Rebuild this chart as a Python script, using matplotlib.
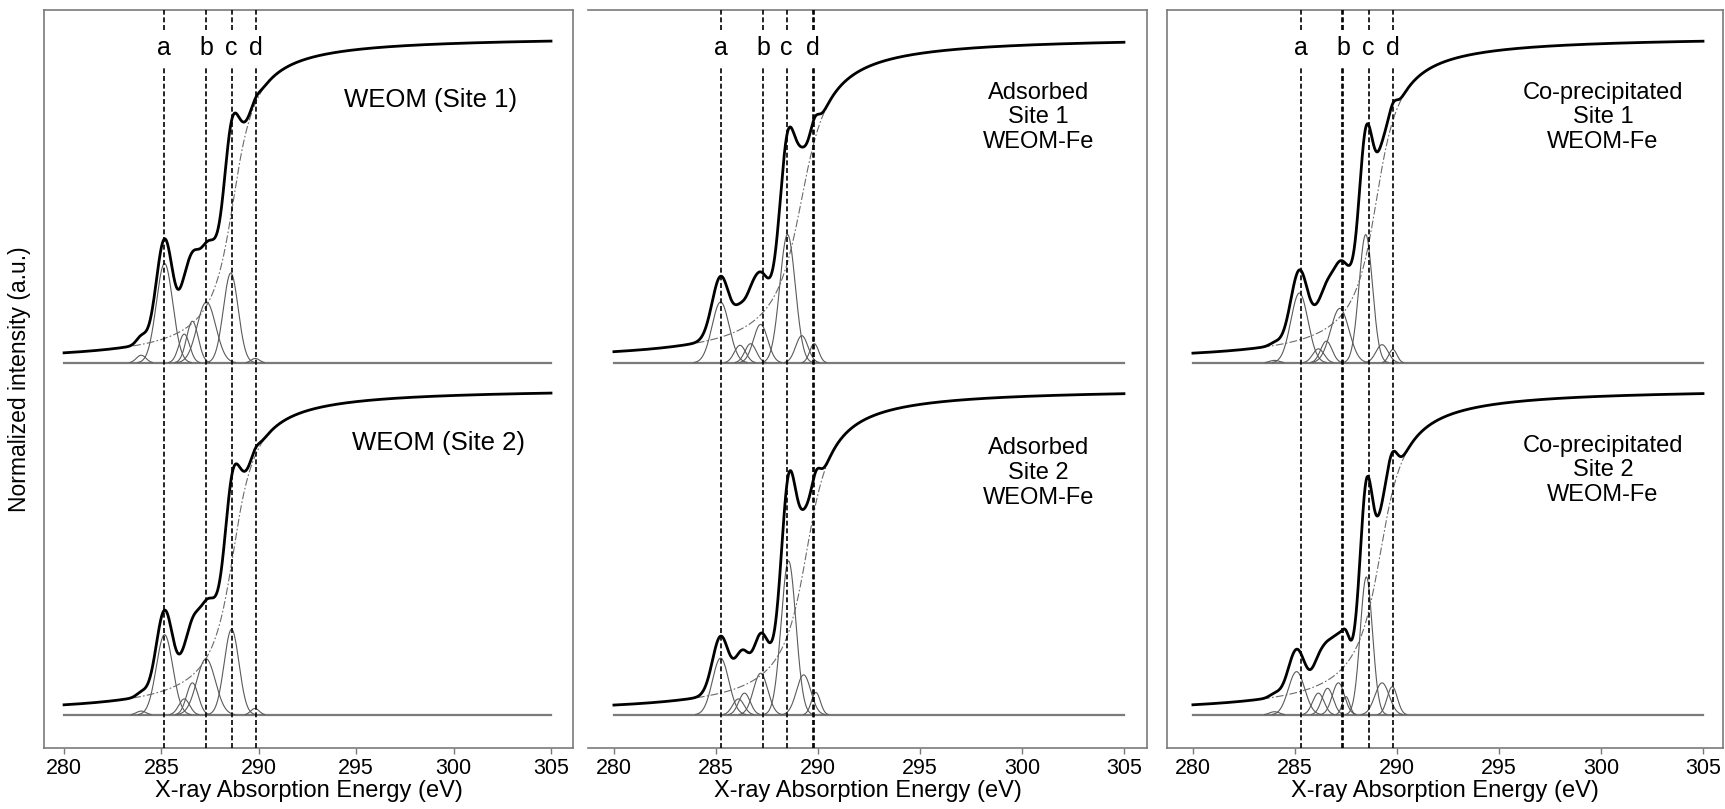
import numpy as np
import matplotlib
matplotlib.use("Agg")
import matplotlib.pyplot as plt

plt.rcParams['font.family'] = ['Liberation Sans', 'DejaVu Sans']

# Peak fits. Heights are in edge-jump units above each baseline,
# centres and widths (sigma) in eV. Step = arctan edge: centre, width, height.
weom1_centers = [283.96, 285.16, 286.17, 286.59, 287.31, 288.56, 289.82]
weom1_heights = [0.024, 0.31, 0.09, 0.13, 0.19, 0.28, 0.014]
weom1_sigmas  = [0.25, 0.42, 0.28, 0.3, 0.48, 0.38, 0.22]
weom1_step    = [288.7, 0.85, 1.02]

weom2_centers = [283.96, 285.16, 286.17, 286.59, 287.29, 288.6, 289.8]
weom2_heights = [0.012, 0.25, 0.05, 0.10, 0.175, 0.267, 0.02]
weom2_sigmas  = [0.25, 0.42, 0.28, 0.3, 0.48, 0.38, 0.22]
weom2_step    = [288.7, 0.85, 1.02]

ads1_centers = [285.23, 286.18, 286.7, 287.19, 288.51, 289.21, 289.82]
ads1_heights = [0.19, 0.055, 0.06, 0.12, 0.40, 0.085, 0.06]
ads1_sigmas  = [0.42, 0.28, 0.28, 0.35, 0.38, 0.3, 0.22]
ads1_step    = [289.2, 1.0, 1.02]

ads2_centers = [285.23, 286.1, 286.4, 287.19, 288.56, 289.3, 289.9]
ads2_heights = [0.177, 0.05, 0.068, 0.13, 0.48, 0.125, 0.07]
ads2_sigmas  = [0.4, 0.28, 0.28, 0.35, 0.36, 0.35, 0.22]
ads2_step    = [289.45, 0.9, 1.02]

cop1_centers = [284.0, 285.22, 286.15, 286.54, 287.2, 288.47, 289.27, 289.8]
cop1_heights = [0.008, 0.218, 0.044, 0.068, 0.17, 0.40, 0.057, 0.042]
cop1_sigmas  = [0.25, 0.42, 0.28, 0.28, 0.45, 0.33, 0.3, 0.2]
cop1_step    = [289.0, 0.85, 1.02]

cop2_centers = [284.0, 285.08, 286.15, 286.6, 287.13, 287.5, 288.5, 289.27, 289.77]
cop2_heights = [0.01, 0.135, 0.068, 0.083, 0.1, 0.057, 0.43, 0.10, 0.088]
cop2_sigmas  = [0.25, 0.4, 0.28, 0.28, 0.3, 0.18, 0.3, 0.35, 0.25]
cop2_step    = [289.2, 0.9, 1.02]

# dashed feature lines (eV) per panel; a second close line makes the doubled ones
panel1_lines = [285.12, 287.29, 288.6, 289.85]
panel2_lines = [285.23, 287.33, 288.47, 289.74, 289.79]
panel3_lines = [285.29, 287.33, 287.38, 288.61, 289.8]
panel1_letters = [285.12, 287.29, 288.6, 289.85]
panel2_letters = [285.23, 287.33, 288.47, 289.76]
panel3_letters = [285.29, 287.36, 288.61, 289.8]
letters = ['a', 'b', 'c', 'd']

top_labels = ['WEOM (Site 1)', 'Adsorbed\nSite 1\nWEOM-Fe', 'Co-precipitated\nSite 1\nWEOM-Fe']
bottom_labels = ['WEOM (Site 2)', 'Adsorbed\nSite 2\nWEOM-Fe', 'Co-precipitated\nSite 2\nWEOM-Fe']

OFFSET = 1.097
E = np.linspace(280, 305, 2501)


def gauss(x, c, h, s):
    return h * np.exp(-(x - c) ** 2 / (2 * s ** 2))


def step(x, e0, w, h):
    return h * (0.5 + np.arctan((x - e0) / w) / np.pi)


def draw_spectrum(ax, centers, heights, sigmas, st, off):
    ax.plot([280, 305], [off, off], color='#7a7a7a', lw=1.6, zorder=1)
    total = step(E, *st)
    for c, h, s in zip(centers, heights, sigmas):
        g = gauss(E, c, h, s)
        total = total + g
        mask = g > 0.0015
        ax.plot(E[mask], g[mask] + off, color='#5a5a5a', lw=0.8, zorder=2)
    ax.plot(E, step(E, *st) + off, color='#6a6a6a', lw=0.8,
            ls=(0, (7, 2, 1.5, 2)), zorder=2)
    ax.plot(E, total + off, color='black', lw=2.0, zorder=4)


fig = plt.figure(figsize=(17.25, 8.09), dpi=100)
W, H = 1725, 809
boxes = [(44, 573, 278.97, 306.13), (588, 1147, 278.73, 306.13), (1167, 1723, 278.73, 305.98)]
spectra = [
    [(weom1_centers, weom1_heights, weom1_sigmas, weom1_step),
     (weom2_centers, weom2_heights, weom2_sigmas, weom2_step)],
    [(ads1_centers, ads1_heights, ads1_sigmas, ads1_step),
     (ads2_centers, ads2_heights, ads2_sigmas, ads2_step)],
    [(cop1_centers, cop1_heights, cop1_sigmas, cop1_step),
     (cop2_centers, cop2_heights, cop2_sigmas, cop2_step)],
]
lines = [panel1_lines, panel2_lines, panel3_lines]
letter_pos = [panel1_letters, panel2_letters, panel3_letters]
label_x_top = [298.8, 300.8, 300.1]
label_x_bot = [299.2, 300.8, 300.1]
label_y_top = [0.82, 0.766, 0.766]
label_y_bot = [0.847, 0.754, 0.763]
label_size = [18.5, 17, 17]

y0, y1 = -0.103, 2.197
for i, (l, r, x0, x1) in enumerate(boxes):
    ax = fig.add_axes([l / W, (H - 748) / H, (r - l) / W, 738 / H])
    ax.set_xlim(x0, x1)
    ax.set_ylim(y0, y1)
    top, bot = spectra[i]
    draw_spectrum(ax, *top, OFFSET)
    draw_spectrum(ax, *bot, 0.0)

    for x in lines[i]:
        ax.plot([x, x], [y0, 2.02], color='black', lw=1.2, ls=(0, (3, 1.6)), zorder=3)
        ax.plot([x, x], [2.135, y1], color='black', lw=1.2, ls=(0, (3, 1.6)), zorder=3)
    for x, t in zip(letter_pos[i], letters):
        ax.text(x, 2.078, t, ha='center', va='center', fontsize=18)

    ax.text(label_x_top[i], OFFSET + label_y_top[i], top_labels[i], ha='center', va='center',
            fontsize=label_size[i], multialignment='center', linespacing=1.15)
    ax.text(label_x_bot[i], label_y_bot[i], bottom_labels[i], ha='center', va='center',
            fontsize=label_size[i], multialignment='center', linespacing=1.15)

    ax.set_xticks([280, 285, 290, 295, 300, 305])
    ax.set_yticks([])
    ax.tick_params(axis='x', direction='out', length=4, width=1, color='#7a7a7a',
                   labelsize=15.5, pad=3)
    for sp in ax.spines.values():
        sp.set_color('#7a7a7a')
        sp.set_linewidth(1.2)
    if i == 1:
        ax.spines['left'].set_visible(False)
    ax.set_xlabel('X-ray Absorption Energy (eV)', fontsize=17, labelpad=1)

fig.text(20 / W, (H - 379) / H, 'Normalized intensity (a.u.)', rotation=90,
         ha='center', va='center', fontsize=16.5)

fig.savefig('out.png', dpi=100)
